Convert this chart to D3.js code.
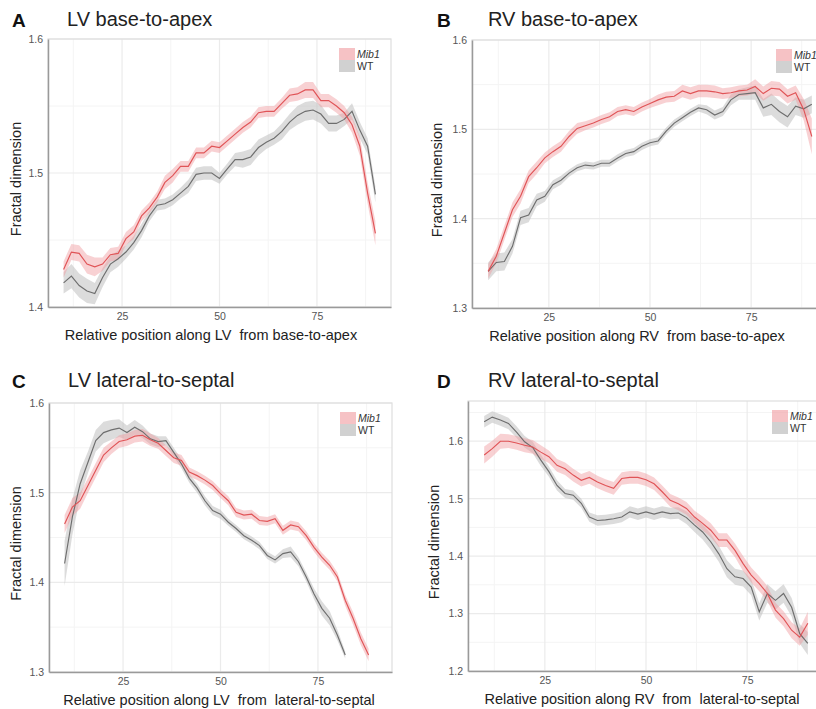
<!DOCTYPE html>
<html>
<head>
<meta charset="utf-8">
<script src="https://cdn.jsdelivr.net/npm/d3@7"></script>
<style>
  body { margin: 0; background: #fff; }
  text { font-family: "Liberation Sans", Arial, sans-serif; }
</style>
</head>
<body>
<svg width="816" height="709"></svg>
<script>
// relative position along the wall (%)
const positions = [10,12,14,16,18,20,22,24,26,28,30,32,34,36,38,40,42,44,46,48,50,
  52,54,56,58,60,62,64,66,68,70,72,74,76,78,80,82,84,86,88,90];

// A - LV base-to-apex
const lvBaseMib1 = [1.428,1.441,1.440,1.432,1.430,1.432,1.439,1.440,1.451,1.456,1.468,1.474,1.482,1.493,1.498,1.505,1.505,1.515,1.515,1.520,
  1.519,1.524,1.529,1.534,1.538,1.545,1.546,1.546,1.552,1.558,1.559,1.562,1.562,1.554,1.554,1.550,1.545,1.536,1.520,1.485,1.455];
const lvBaseMib1Se = [.006,.006,.006,.007,.007,.005,.005,.005,.005,.005,.004,.004,.004,.005,.005,.004,.004,.004,.004,.004,
  .004,.004,.004,.004,.004,.004,.004,.004,.004,.005,.005,.006,.006,.005,.005,.005,.005,.006,.007,.008,.009];
const lvBaseWT = [1.418,1.423,1.416,1.412,1.410,1.422,1.432,1.436,1.441,1.448,1.457,1.468,1.476,1.477,1.480,1.485,1.490,1.499,1.500,1.500,
  1.496,1.503,1.510,1.510,1.512,1.519,1.523,1.526,1.531,1.538,1.543,1.546,1.547,1.544,1.537,1.537,1.540,1.546,1.532,1.520,1.484];
const lvBaseWTSe = [.008,.009,.009,.009,.008,.007,.006,.006,.005,.005,.005,.004,.004,.004,.004,.004,.005,.005,.005,.005,
  .004,.004,.005,.006,.006,.006,.005,.005,.006,.006,.007,.007,.007,.007,.006,.006,.005,.006,.006,.006,.006];

// B - RV base-to-apex
const rvBaseMib1 = [1.341,1.358,1.384,1.410,1.425,1.447,1.457,1.468,1.475,1.481,1.492,1.501,1.504,1.507,1.511,1.514,1.520,1.522,1.520,1.525,
  1.529,1.533,1.536,1.537,1.543,1.540,1.543,1.543,1.542,1.540,1.541,1.543,1.544,1.548,1.540,1.546,1.545,1.537,1.541,1.522,1.492];
const rvBaseMib1Se = [.008,.008,.008,.008,.008,.007,.007,.006,.006,.006,.006,.006,.005,.005,.005,.005,.005,.005,.005,.005,
  .005,.006,.006,.006,.007,.007,.007,.007,.007,.006,.006,.006,.006,.008,.008,.008,.008,.008,.008,.012,.020];
const rvBaseWT = [1.341,1.351,1.352,1.369,1.401,1.404,1.421,1.425,1.438,1.443,1.451,1.457,1.460,1.459,1.462,1.462,1.468,1.473,1.475,1.481,
  1.485,1.487,1.498,1.507,1.513,1.519,1.524,1.522,1.516,1.520,1.533,1.539,1.540,1.541,1.524,1.528,1.520,1.514,1.526,1.523,1.528];
const rvBaseWTSe = [.010,.010,.010,.008,.008,.008,.007,.006,.005,.005,.004,.004,.004,.004,.004,.004,.004,.004,.004,.004,
  .004,.004,.004,.004,.004,.004,.004,.005,.005,.005,.006,.006,.007,.008,.010,.012,.012,.012,.010,.010,.010];

// C - LV lateral-to-septal
const lvLatMib1 = [1.465,1.484,1.491,1.508,1.525,1.542,1.550,1.557,1.559,1.563,1.564,1.559,1.555,1.547,1.539,1.536,1.523,1.519,1.514,1.508,
  1.499,1.491,1.478,1.475,1.476,1.469,1.468,1.471,1.458,1.464,1.462,1.452,1.439,1.428,1.419,1.406,1.380,1.360,1.337,1.319];
const lvLatMib1Se = [.010,.010,.009,.008,.008,.008,.007,.007,.007,.007,.007,.007,.006,.006,.006,.006,.005,.005,.005,.005,
  .005,.005,.005,.005,.005,.005,.005,.005,.005,.005,.005,.005,.005,.005,.005,.005,.006,.007,.007,.007];
const lvLatWT = [1.421,1.473,1.510,1.534,1.558,1.567,1.570,1.572,1.567,1.573,1.568,1.560,1.557,1.558,1.545,1.532,1.516,1.505,1.491,1.480,
  1.476,1.467,1.460,1.452,1.447,1.441,1.430,1.425,1.432,1.434,1.423,1.406,1.387,1.371,1.360,1.341,1.319];
const lvLatWTSe = [.025,.020,.015,.012,.012,.012,.011,.010,.008,.008,.007,.006,.006,.005,.005,.005,.005,.005,.005,.005,
  .005,.004,.004,.004,.004,.004,.004,.004,.005,.006,.005,.005,.006,.008,.008,.006,.004];

// D - RV lateral-to-septal
const rvLatMib1 = [1.576,1.587,1.600,1.600,1.597,1.593,1.590,1.581,1.573,1.558,1.552,1.541,1.532,1.537,1.529,1.523,1.518,1.535,1.537,1.537,
  1.533,1.526,1.512,1.497,1.491,1.483,1.468,1.457,1.445,1.428,1.428,1.410,1.387,1.367,1.352,1.335,1.306,1.291,1.271,1.259,1.283];
const rvLatMib1Se = [.015,.014,.013,.012,.012,.012,.012,.012,.011,.011,.011,.011,.011,.011,.011,.011,.011,.011,.011,.011,
  .011,.011,.011,.011,.011,.011,.011,.012,.012,.012,.012,.012,.013,.013,.013,.013,.013,.013,.014,.015,.020];
const rvLatWT = [1.634,1.642,1.637,1.631,1.616,1.599,1.589,1.567,1.547,1.523,1.509,1.506,1.492,1.468,1.462,1.463,1.465,1.468,1.477,1.473,
  1.477,1.473,1.477,1.474,1.475,1.467,1.454,1.442,1.425,1.404,1.378,1.364,1.361,1.346,1.303,1.335,1.323,1.335,1.311,1.265,1.248];
const rvLatWTSe = [.010,.010,.010,.010,.010,.010,.010,.010,.009,.009,.008,.008,.008,.008,.009,.009,.009,.009,.010,.010,
  .010,.010,.010,.010,.010,.011,.012,.013,.014,.014,.015,.014,.014,.014,.015,.016,.016,.016,.016,.017,.020];

const yTicksTop = [1.4, 1.5, 1.6];
const yTicksWide = [1.3, 1.4, 1.5, 1.6];
const yTicksD = [1.2, 1.3, 1.4, 1.5, 1.6];
const xTicks = [25, 50, 75];
const xMinor = [12.5, 37.5, 62.5, 87.5];

const panels = [
  { letter: "A", title: "LV base-to-apex", xLabel: "Relative position along LV  from base-to-apex",
    yDomain: [1.4, 1.6], yTicks: yTicksTop, mib1: lvBaseMib1, mib1Se: lvBaseMib1Se, wt: lvBaseWT, wtSe: lvBaseWTSe,
    box: { left: 48, top: 39, right: 391, bottom: 307 }, letterX: 12, titleX: 67, titleY: 26, yLabelX: 16, xLabelX: 211 },
  { letter: "B", title: "RV base-to-apex", xLabel: "Relative position along RV  from base-to-apex",
    yDomain: [1.3, 1.6], yTicks: yTicksWide, mib1: rvBaseMib1, mib1Se: rvBaseMib1Se, wt: rvBaseWT, wtSe: rvBaseWTSe,
    box: { left: 472, top: 40, right: 828, bottom: 308 }, letterX: 437, titleX: 488, titleY: 26, yLabelX: 437, xLabelX: 637 },
  { letter: "C", title: "LV lateral-to-septal", xLabel: "Relative position along LV  from  lateral-to-septal",
    yDomain: [1.3, 1.6], yTicks: yTicksWide, mib1: lvLatMib1, mib1Se: lvLatMib1Se, wt: lvLatWT, wtSe: lvLatWTSe,
    box: { left: 49, top: 403, right: 392, bottom: 672 }, letterX: 12, titleX: 68, titleY: 387, yLabelX: 16, xLabelX: 219 },
  { letter: "D", title: "RV lateral-to-septal", xLabel: "Relative position along RV  from  lateral-to-septal",
    yDomain: [1.2, 1.67], yTicks: yTicksD, mib1: rvLatMib1, mib1Se: rvLatMib1Se, wt: rvLatWT, wtSe: rvLatWTSe,
    box: { left: 468, top: 401, right: 824, bottom: 671 }, letterX: 437, titleX: 488, titleY: 387, yLabelX: 434, xLabelX: 642 }
];

const svg = d3.select("svg");
const red = "#e05457", pink = "#f09a9e", grey = "#6e6e6e", greyBand = "#b9b9b9";

panels.forEach((p, i) => {
  const b = p.box;
  const x = d3.scaleLinear().domain([6, 94]).range([b.left, b.right]);
  const y = d3.scaleLinear().domain(p.yDomain).range([b.bottom, b.top]);
  const g = svg.append("g");

  // grid
  const yMinor = d3.pairs(p.yTicks).map(d => (d[0] + d[1]) / 2);
  if (p.yDomain[1] > p.yTicks[p.yTicks.length - 1] + 0.05) yMinor.push(p.yTicks[p.yTicks.length - 1] + 0.05);
  g.selectAll(".ymin").data(yMinor).enter().append("line")
    .attr("x1", b.left).attr("x2", b.right).attr("y1", d => y(d)).attr("y2", d => y(d))
    .attr("stroke", "#f4f4f4").attr("stroke-width", 1);
  g.selectAll(".xmin").data(xMinor).enter().append("line")
    .attr("y1", b.top).attr("y2", b.bottom).attr("x1", d => x(d)).attr("x2", d => x(d))
    .attr("stroke", "#f4f4f4").attr("stroke-width", 1);
  g.selectAll(".ymaj").data(p.yTicks).enter().append("line")
    .attr("x1", b.left).attr("x2", b.right).attr("y1", d => y(d)).attr("y2", d => y(d))
    .attr("stroke", "#ebebeb").attr("stroke-width", 1.2);
  g.selectAll(".xmaj").data(xTicks).enter().append("line")
    .attr("y1", b.top).attr("y2", b.bottom).attr("x1", d => x(d)).attr("x2", d => x(d))
    .attr("stroke", "#ebebeb").attr("stroke-width", 1.2);

  g.append("rect")
    .attr("x", b.left).attr("y", b.top)
    .attr("width", b.right - b.left).attr("height", b.bottom - b.top)
    .attr("fill", "none").attr("stroke", "#dedede").attr("stroke-width", 1.2);

  // curves
  const clipId = "clip" + i;
  g.append("clipPath").attr("id", clipId).append("rect")
    .attr("x", b.left).attr("y", b.top)
    .attr("width", b.right - b.left).attr("height", b.bottom - b.top);
  const plot = g.append("g").attr("clip-path", `url(#${clipId})`);

  const series = [
    { vals: p.wt, se: p.wtSe, line: grey, band: greyBand, op: 0.5 },
    { vals: p.mib1, se: p.mib1Se, line: red, band: pink, op: 0.45 }
  ];
  series.forEach(s => {
    const rows = s.vals.map((v, k) => ({ pos: positions[k], v: v, se: s.se[k] }));
    s.rows = rows;
    plot.append("path")
      .attr("d", d3.area().x(d => x(d.pos)).y0(d => y(d.v - d.se)).y1(d => y(d.v + d.se))(rows))
      .attr("fill", s.band).attr("opacity", s.op);
  });
  series.forEach(s => {
    plot.append("path")
      .attr("d", d3.line().x(d => x(d.pos)).y(d => y(d.v))(s.rows))
      .attr("fill", "none").attr("stroke", s.line).attr("stroke-width", 1.15);
  });

  // axes
  const yAxis = g.append("g").attr("transform", `translate(${b.left},0)`)
    .call(d3.axisLeft(y).tickValues(p.yTicks).tickFormat(d3.format(".1f")).tickSize(0).tickSizeOuter(0).tickPadding(5));
  const xAxis = g.append("g").attr("transform", `translate(0,${b.bottom})`)
    .call(d3.axisBottom(x).tickValues(xTicks).tickSize(0).tickSizeOuter(0).tickPadding(6));
  [yAxis, xAxis].forEach(a => {
    a.select(".domain").attr("stroke", "#9a9a9a").attr("stroke-width", 1.5);
    a.selectAll("text").attr("font-size", 10.5).attr("fill", "#555")
      .attr("font-family", "'Liberation Sans', Arial, sans-serif");
  });

  // labels
  svg.append("text").attr("x", p.letterX).attr("y", p.titleY + 1)
    .attr("font-size", 19).attr("font-weight", "bold").attr("fill", "#111").text(p.letter);
  svg.append("text").attr("x", p.titleX).attr("y", p.titleY)
    .attr("font-size", 20).attr("fill", "#222").text(p.title);
  svg.append("text").attr("x", p.xLabelX).attr("y", b.bottom + 33)
    .attr("text-anchor", "middle").attr("font-size", 14.5).attr("fill", "#222")
    .attr("xml:space", "preserve").style("white-space", "pre").text(p.xLabel);
  svg.append("text")
    .attr("transform", `translate(${p.yLabelX + 5},${(b.top + b.bottom) / 2 + 6}) rotate(-90)`)
    .attr("text-anchor", "middle").attr("font-size", 14.5).attr("fill", "#222").text("Fractal dimension");

  // legend
  const lx = b.right - 52, ly = b.top + 9;
  const legend = [{ name: "Mib1", fill: pink, op: 0.6, italic: true }, { name: "WT", fill: greyBand, op: 0.65, italic: false }];
  legend.forEach((l, k) => {
    svg.append("rect").attr("x", lx).attr("y", ly + k * 12).attr("width", 16).attr("height", 12)
      .attr("fill", l.fill).attr("opacity", l.op);
    svg.append("text").attr("x", lx + 18).attr("y", ly + k * 12 + 10)
      .attr("font-size", 10.5).attr("fill", "#333")
      .attr("font-style", l.italic ? "italic" : "normal").text(l.name);
  });
});
</script>
</body>
</html>
